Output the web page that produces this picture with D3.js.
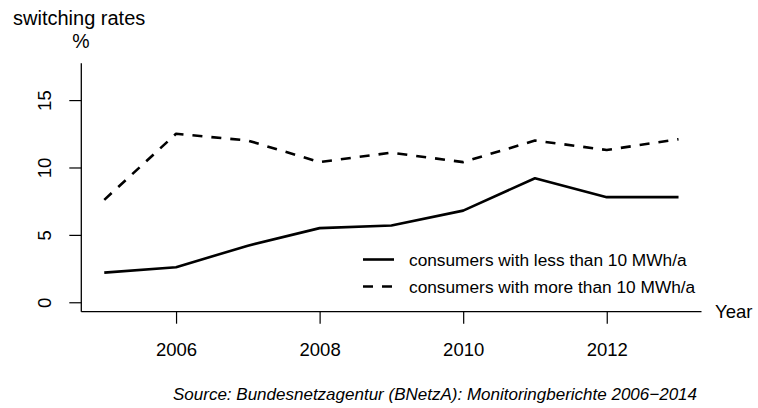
<!DOCTYPE html>
<html>
<head>
<meta charset="utf-8">
<script src="https://cdn.jsdelivr.net/npm/d3@7"></script>
<style>
  html, body { margin: 0; padding: 0; background: #fff; }
  svg { display: block; font-family: "Liberation Sans", Arial, sans-serif; }
</style>
</head>
<body>
<svg id="chart" width="758" height="408"></svg>
<script>
// Switching rates of electricity consumers in Germany, 2005-2013
const years = [2005, 2006, 2007, 2008, 2009, 2010, 2011, 2012, 2013];
const lessThan10 = [2.2, 2.6, 4.2, 5.5, 5.7, 6.8, 9.2, 7.8, 7.8];
const moreThan10 = [7.6, 12.5, 12.0, 10.4, 11.1, 10.4, 12.0, 11.3, 12.1];
const xTicks = [2006, 2008, 2010, 2012];
const yTicks = [0, 5, 10, 15];
const seriesNames = ["consumers with less than 10 MWh/a", "consumers with more than 10 MWh/a"];

const svg = d3.select("#chart");

// plot region
const plotLeft = 81.3, plotRight = 701.5, plotTop = 63.3, plotBottom = 311.7;

const x = d3.scaleLinear()
  .domain([2005 - 0.32, 2013 + 0.32])
  .range([plotLeft, plotRight]);

const y = d3.scaleLinear()
  .domain([-0.70, 17.73])
  .range([plotBottom, plotTop]);

const ink = "#000";

// L-shaped frame axes
const xAxis = d3.axisBottom(x).tickValues(xTicks).tickFormat(d3.format("d"))
  .tickSizeOuter(0).tickSizeInner(12).tickPadding(19);
const gx = svg.append("g").attr("transform", `translate(0,${plotBottom})`).call(xAxis);
gx.select(".domain").attr("stroke", ink).attr("stroke-width", 1.3)
  .attr("d", `M${plotLeft},0H${plotRight}`);
gx.selectAll(".tick line").attr("stroke", ink).attr("stroke-width", 1.2);
gx.selectAll(".tick text").attr("font-size", 18.5).attr("fill", ink)
  .attr("dy", "0.71em");

const yAxis = d3.axisLeft(y).tickValues(yTicks).tickSizeOuter(0).tickSizeInner(12);
const gy = svg.append("g").attr("transform", `translate(${plotLeft},0)`).call(yAxis);
gy.select(".domain").attr("stroke", ink).attr("stroke-width", 1.3)
  .attr("d", `M0,${plotTop}V${plotBottom}`);
gy.selectAll(".tick line").attr("stroke", ink).attr("stroke-width", 1.2);
gy.selectAll(".tick text").remove();
gy.selectAll(".tick").append("text")
  .attr("transform", "translate(-37,0) rotate(-90)")
  .attr("text-anchor", "middle")
  .attr("dy", "0.35em")
  .attr("font-size", 18.5)
  .attr("fill", ink)
  .text(d => d);

// series lines
const line = d3.line().x((d, i) => x(years[i])).y(d => y(d));

svg.append("path")
  .datum(lessThan10)
  .attr("d", line)
  .attr("fill", "none")
  .attr("stroke", ink)
  .attr("stroke-width", 2.6)
  .attr("stroke-linejoin", "round");

svg.append("path")
  .datum(moreThan10)
  .attr("d", line)
  .attr("fill", "none")
  .attr("stroke", ink)
  .attr("stroke-width", 2.6)
  .attr("stroke-dasharray", "10 9")
  .attr("stroke-linejoin", "round");

// legend
const legend = svg.append("g");
const dashes = [null, "10 9"];
const legendY = [259.5, 286.5];
seriesNames.forEach((name, i) => {
  legend.append("line")
    .attr("x1", 363).attr("x2", 394)
    .attr("y1", legendY[i]).attr("y2", legendY[i])
    .attr("stroke", ink).attr("stroke-width", 2.6)
    .attr("stroke-dasharray", dashes[i]);
  legend.append("text")
    .attr("x", 409).attr("y", legendY[i])
    .attr("dy", "0.35em")
    .attr("font-size", 17.3)
    .attr("fill", ink)
    .text(name);
});

// titles and labels
svg.append("text").attr("x", 13).attr("y", 25)
  .attr("font-size", 20).attr("fill", ink).text("switching rates");
svg.append("text").attr("x", 81).attr("y", 48)
  .attr("text-anchor", "middle")
  .attr("font-size", 19.5).attr("fill", ink).text("%");
svg.append("text").attr("x", 715).attr("y", plotBottom)
  .attr("dy", "0.35em")
  .attr("font-size", 18.5).attr("fill", ink).text("Year");
svg.append("text").attr("x", 173).attr("y", 400)
  .attr("font-size", 17).attr("font-style", "italic").attr("fill", ink)
  .text("Source: Bundesnetzagentur (BNetzA): Monitoringberichte 2006\u22122014");
</script>
</body>
</html>
